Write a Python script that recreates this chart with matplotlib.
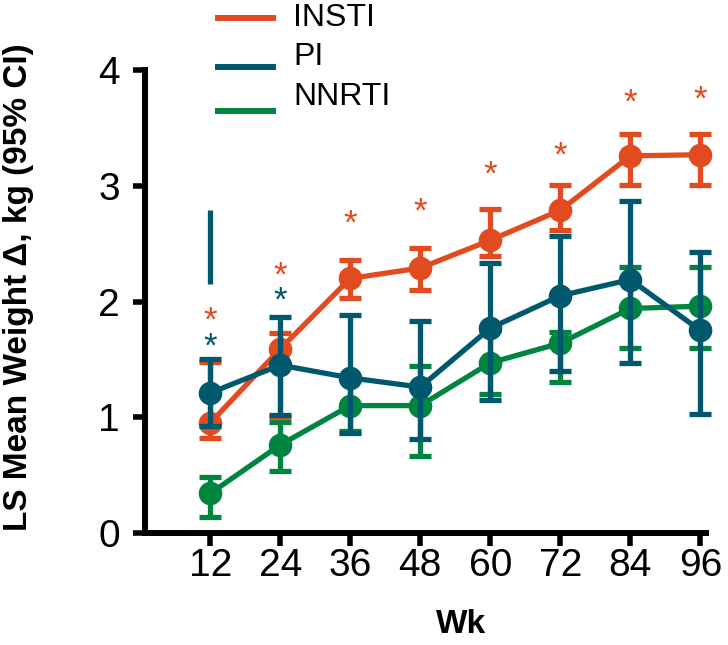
import numpy as np
import matplotlib
matplotlib.use('Agg')
from matplotlib import pyplot as plt
from matplotlib.lines import Line2D

weeks = [12, 24, 36, 48, 60, 72, 84, 96]

insti = [0.95, 1.59, 2.20, 2.29, 2.53, 2.79, 3.26, 3.27]
insti_lo = [0.82, 1.00, 2.03, 2.10, 2.39, 2.62, 3.01, 3.01]
insti_hi = [1.48, 1.73, 2.36, 2.46, 2.80, 3.01, 3.45, 3.45]

pi = [1.21, 1.45, 1.34, 1.26, 1.77, 2.05, 2.19, 1.75]
pi_lo = [0.92, 1.02, 0.86, 0.81, 1.15, 1.40, 1.47, 1.03]
pi_hi = [1.50, 1.87, 1.88, 1.83, 2.33, 2.57, 2.87, 2.43]

nnrti = [0.34, 0.76, 1.10, 1.10, 1.47, 1.64, 1.94, 1.96]
nnrti_lo = [0.14, 0.53, 0.88, 0.66, 1.20, 1.30, 1.60, 1.60]
nnrti_hi = [0.48, 0.96, 1.33, 1.44, 1.75, 1.74, 2.30, 2.30]

# significance markers
insti_star_y = [1.88, 2.27, 2.72, 2.82, 3.14, 3.31, 3.76, 3.79]
pi_star_wk = [12, 24]
pi_star_y = [1.65, 2.05]

# stray PI bar segment at wk 12
pi_extra = (12, 2.15, 2.79)

labels = ['INSTI', 'PI', 'NNRTI']

ORANGE = '#E24A1F'
BLUE = '#00586F'
GREEN = '#008540'
FONT = 'Liberation Sans'

fig = plt.figure(figsize=(7.28, 6.45), dpi=100)
ax = fig.add_axes([0.199, 0.174, 0.771, 0.717])


def draw(vals, lo, hi, color, z):
    vals = np.array(vals)
    err = [vals - np.array(lo), np.array(hi) - vals]
    ax.errorbar(weeks, vals, yerr=err, color=color, lw=3.8, marker='o', ms=16,
                capsize=8, capthick=3.8, elinewidth=3.8, zorder=z, clip_on=False)


draw(insti, insti_lo, insti_hi, ORANGE, 4)
draw(pi, pi_lo, pi_hi, BLUE, 5)
draw(nnrti, nnrti_lo, nnrti_hi, GREEN, 3)

ax.vlines(pi_extra[0], pi_extra[1], pi_extra[2], color=BLUE, lw=3.8)

for w, y in zip(weeks, insti_star_y):
    ax.annotate('*', (w, y), xytext=(0, -4), textcoords='offset points',
                color=ORANGE, fontsize=25, ha='center', va='center', family=FONT)
for w, y in zip(pi_star_wk, pi_star_y):
    ax.annotate('*', (w, y), xytext=(0, -4), textcoords='offset points',
                color=BLUE, fontsize=25, ha='center', va='center', family=FONT)

ax.set_xlim(0.8, 97)
ax.set_ylim(0, 4)
ax.set_xticks(weeks)
ax.set_yticks([0, 1, 2, 3, 4])
for s in ['top', 'right']:
    ax.spines[s].set_visible(False)
for s in ['left', 'bottom']:
    ax.spines[s].set_linewidth(4.3)
ax.tick_params(width=4, length=9, labelsize=28)
ax.tick_params(axis='x', pad=2)
ax.tick_params(axis='y', pad=9)
for lab in ax.get_xticklabels() + ax.get_yticklabels():
    lab.set_family(FONT)

ax.set_xlabel('Wk', fontsize=24, fontweight='bold', family=FONT)
ax.xaxis.set_label_coords(0.563, -0.165)
ax.set_ylabel('LS Mean Weight Δ, kg (95% CI)', fontsize=24, fontweight='bold',
              family=FONT)
ax.yaxis.set_label_coords(-0.198, 0.531)

# legend drawn by hand to mimic the offset between handles and text
line_y = [18, 67, 111]
text_y = [18, 57, 97]
W, H = 728, 645
for c, ly, ty, lab in zip((ORANGE, BLUE, GREEN), line_y, text_y, labels):
    fig.add_artist(Line2D([218 / W, 273 / W], [1 - ly / H] * 2, color=c, lw=4.3,
                          transform=fig.transFigure))
    fig.text(293 / W, 1 - ty / H, lab, fontsize=23, family=FONT, va='center')

fig.savefig('out.png', dpi=100)
